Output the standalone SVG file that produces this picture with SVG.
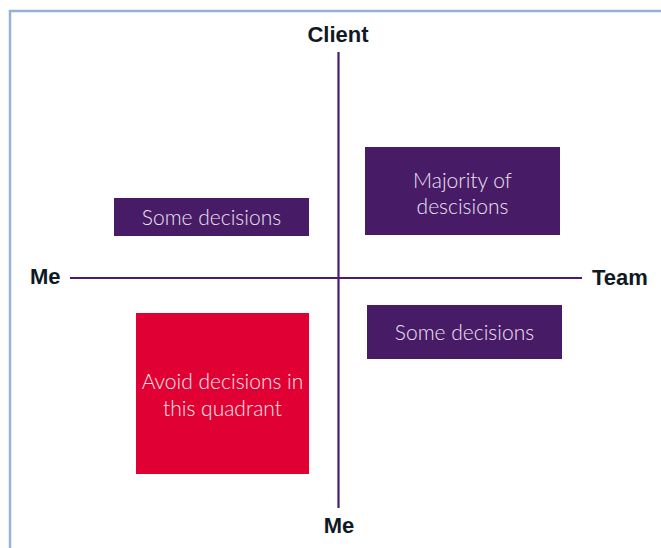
<svg xmlns="http://www.w3.org/2000/svg" width="661" height="548" viewBox="0 0 661 548">
<style>
.axis{stroke:#4a1c6b;stroke-width:2.2;fill:none}
.lbl{font-family:"Liberation Sans",Arial,sans-serif;font-weight:bold;font-size:22px;fill:#0f1a24}
.box{fill:#471b66}
.red{fill:#e10033}
.bt{font-family:Lato,"Open Sans",sans-serif;font-weight:300;font-size:21px;fill:#ece2f3;text-anchor:middle}
.rt{fill:#fde8ec}
</style>
<rect width="661" height="548" fill="#ffffff"/>
<path d="M10,548 V11 H661" stroke="#95b3d7" stroke-width="2.5" fill="none"/>
<g id="connectors">
<line class="axis" x1="338.5" y1="52" x2="338.5" y2="508"/>
<line class="axis" x1="70" y1="278" x2="582" y2="278"/>
</g>
<g id="client"><text class="lbl" x="338" y="42" text-anchor="middle">Client</text></g>
<g id="me-left"><text class="lbl" x="30" y="284">Me</text></g>
<g id="team"><text class="lbl" x="592" y="285">Team</text></g>
<g id="me-bottom"><text class="lbl" x="339" y="533" text-anchor="middle">Me</text></g>
<g id="some-left"><rect class="box" x="114" y="198" width="195" height="38"/><text class="bt" x="211.5" y="225">Some decisions</text></g>
<g id="majority"><rect class="box" x="365" y="147" width="195" height="88"/><text class="bt" x="462.5" y="188">Majority of</text><text class="bt" x="462.5" y="214">descisions</text></g>
<g id="some-right"><rect class="box" x="367" y="305" width="195" height="54"/><text class="bt" x="464.5" y="340">Some decisions</text></g>
<g id="avoid"><rect class="red" x="136" y="313" width="173" height="161"/><text class="bt rt" x="222.5" y="389">Avoid decisions in</text><text class="bt rt" x="222.5" y="416">this quadrant</text></g>
</svg>
